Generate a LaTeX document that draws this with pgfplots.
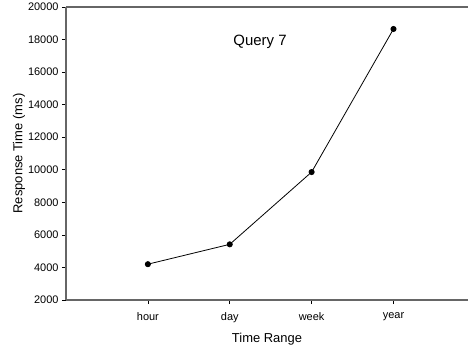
\documentclass[border=0pt]{standalone}
\usepackage{pgfplots}
\pgfplotsset{compat=1.18}
\usepackage{fontspec}
\setmainfont{Liberation Sans}
\begin{document}
\begin{tikzpicture}
\path[use as bounding box] (-66bp,-49bp) rectangle (402bp,300bp);
\begin{axis}[
  at={(0,0)}, anchor=south west,
  scale only axis, width=402bp, height=293bp,
  xmin=-1, xmax=3.91, ymin=2000, ymax=20000,
  axis x line=box, axis y line=left,
  axis line style={black!60, line width=1.1bp, -},
  xtick={0,1,2,3}, xticklabels={hour,day,week,year},
  xtick pos=bottom, ytick pos=left,
  ytick={2000,4000,...,20000},
  scaled y ticks=false,
  tick align=outside, major tick length=4bp,
  tick style={black, line width=0.6bp},
  /pgf/number format/assume math mode=true,
  /pgf/number format/1000 sep={},
  ticklabel style={font=\fontsize{11}{13}\selectfont},
  xticklabel style={yshift=-5bp},
  label style={font=\fontsize{13}{15}\selectfont},
  xlabel={Time Range}, ylabel={Response Time (ms)},
  xlabel style={yshift=-4bp},
  ylabel style={yshift=-4bp},
]
\addplot[black, line width=0.8bp, mark=*, mark size=2.6bp, mark options={fill=black}] coordinates {(0,4200) (1,5420) (2,9860) (3,18650)};
\node[font=\fontsize{15}{17}\selectfont] at (axis cs:1.37,17850) {Query 7};
\end{axis}
\end{tikzpicture}
\end{document}
